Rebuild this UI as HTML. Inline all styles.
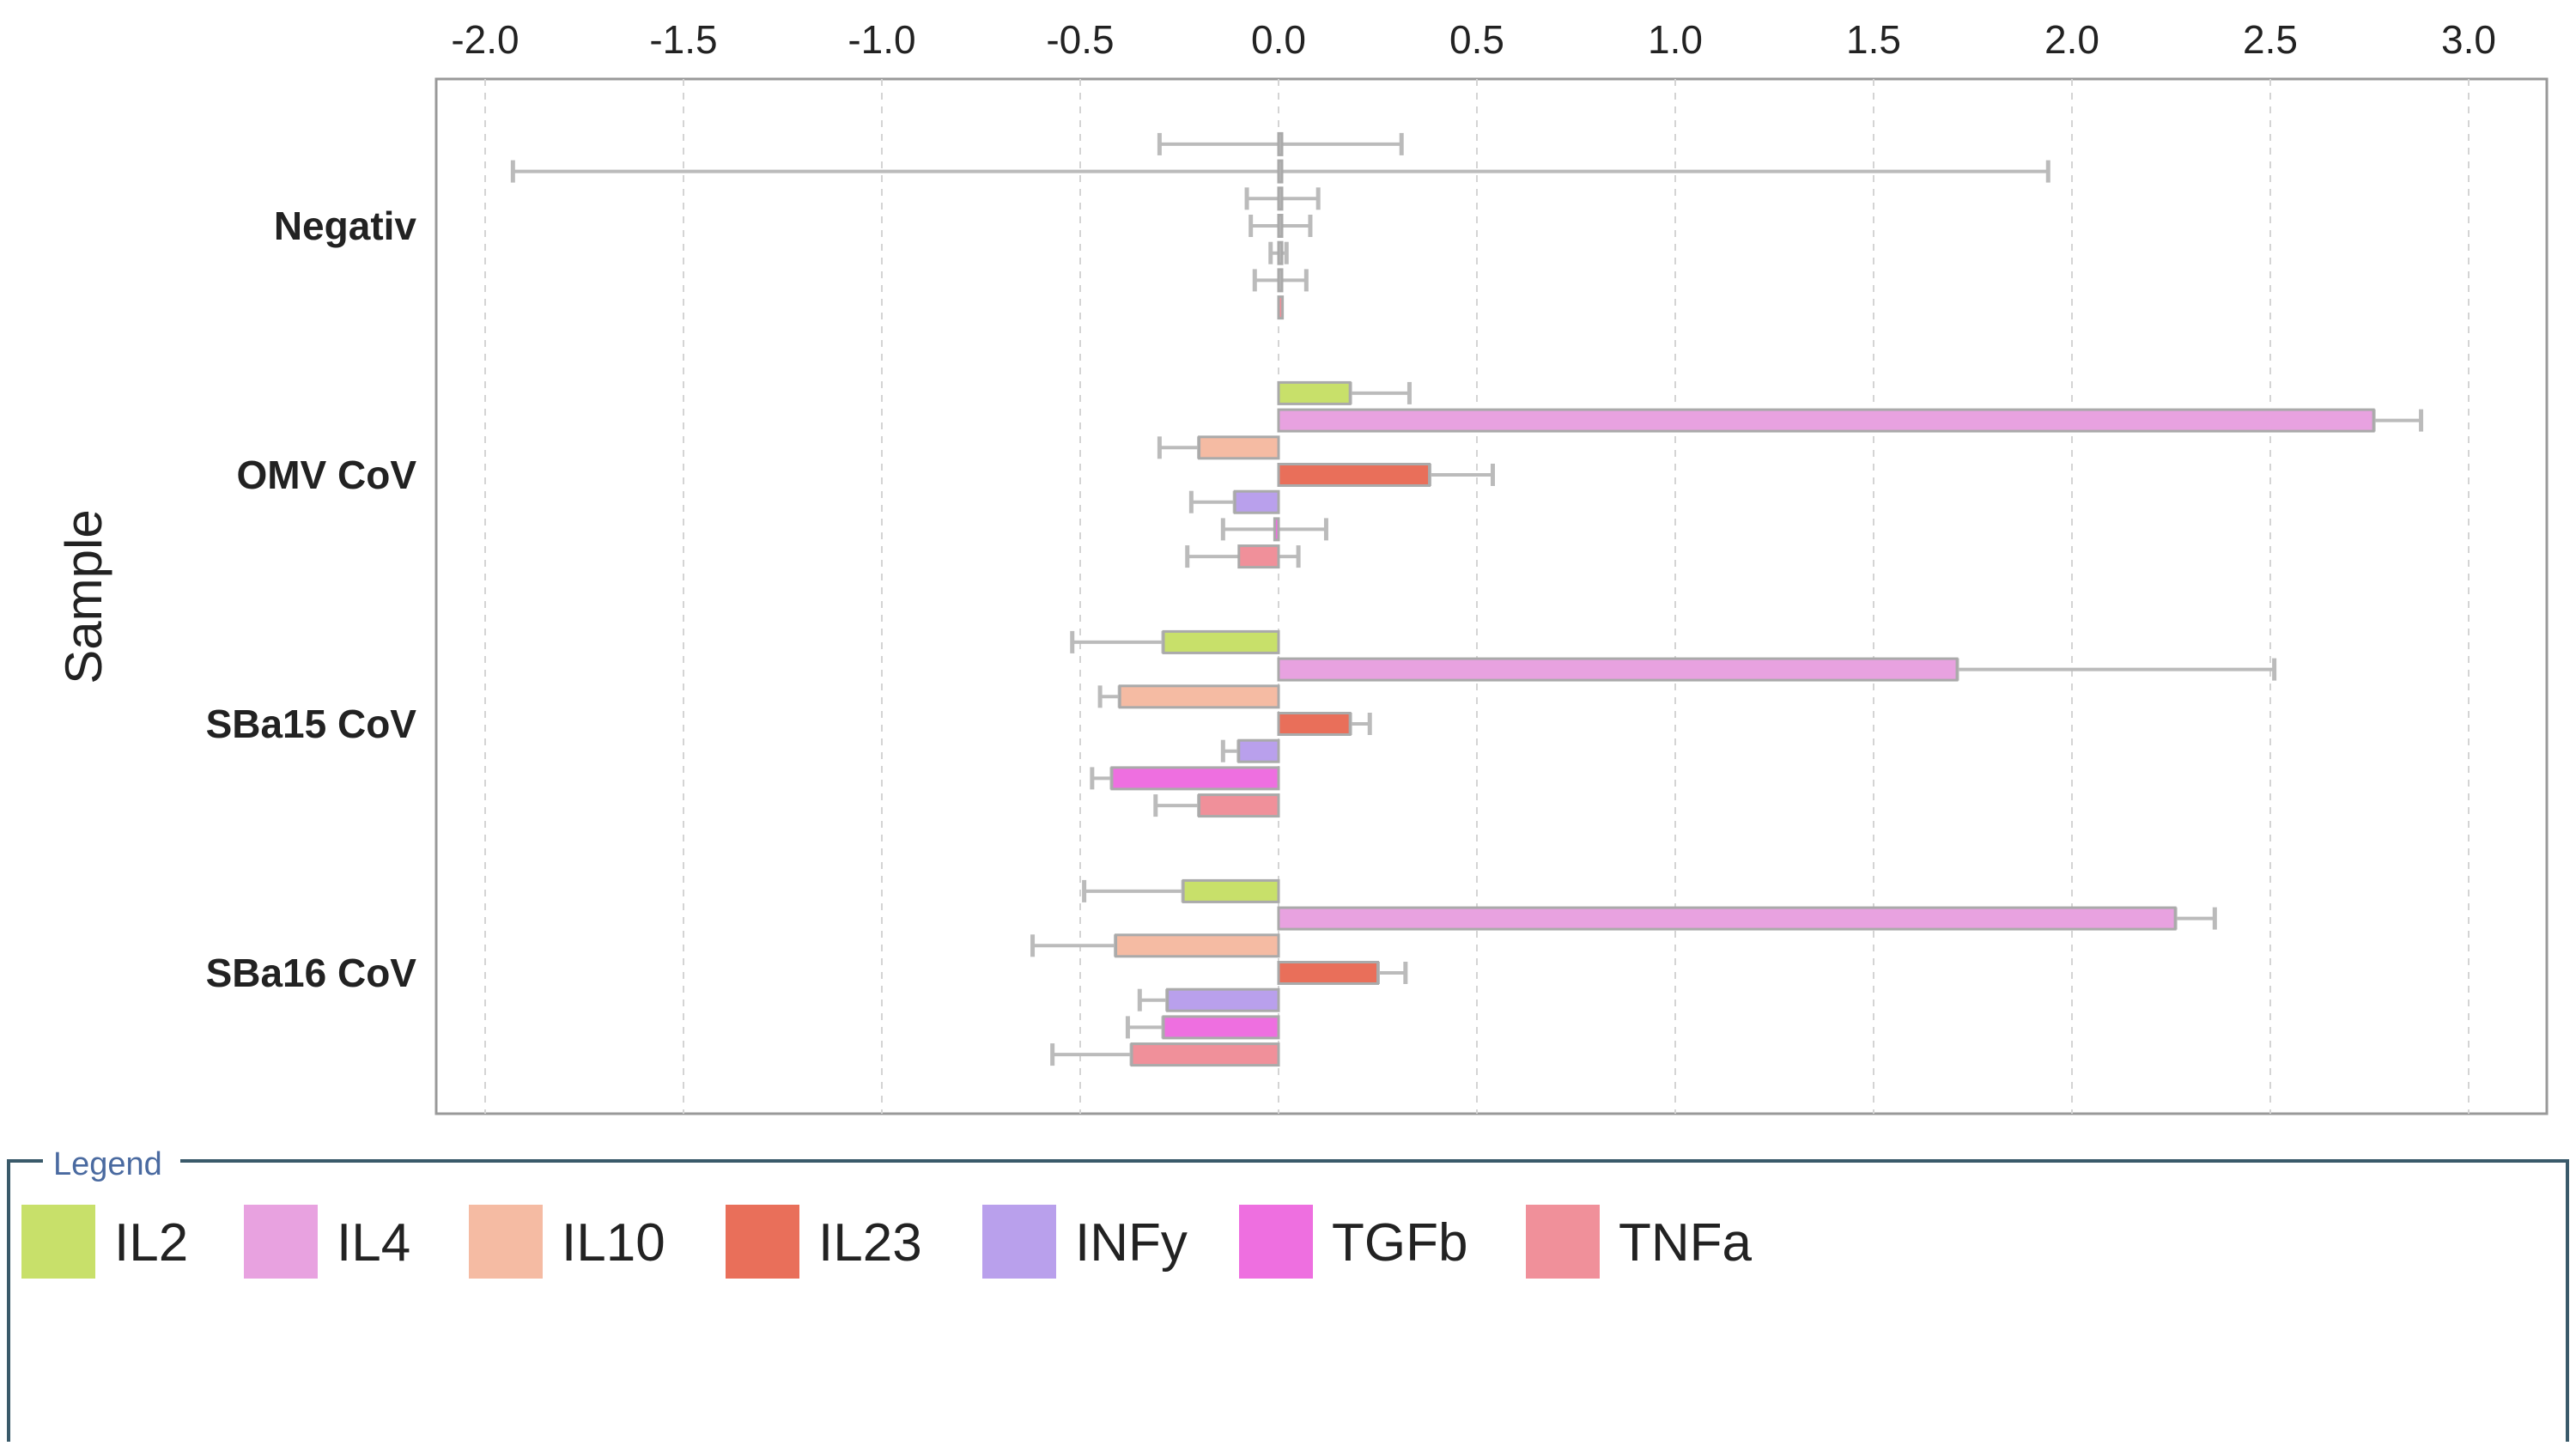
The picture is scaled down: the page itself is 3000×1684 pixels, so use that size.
<!DOCTYPE html>
<html><head><meta charset="utf-8"><style>
body{margin:0;background:#fff;width:3000px;height:1679px;overflow:hidden;font-family:"Liberation Sans",sans-serif}
</style></head><body>
<svg id="chart" width="3000" height="1679" xmlns="http://www.w3.org/2000/svg" font-family="Liberation Sans, sans-serif">
<text x="0" y="0" transform="translate(118,695) rotate(-90)" text-anchor="middle" font-size="60" fill="#222">Sample</text>
<rect x="10" y="1352" width="2980" height="340" fill="none" stroke="#3a5a6a" stroke-width="4"/>
<rect x="50" y="1335" width="160" height="40" fill="#fff"/>
<text x="62" y="1368" font-size="38" fill="#4a6aa0">Legend</text>
</svg>
<script>
const categories = ["Negativ","OMV CoV","SBa15 CoV","SBa16 CoV"];
const seriesNames = ["IL2","IL4","IL10","IL23","INFy","TGFb","TNFa"];
const colors = ["#c8e06a","#e8a2e0","#f5bba3","#e96f5a","#b9a0ec","#ee6fe0","#f0909a"];
const ticks = [-2.0,-1.5,-1.0,-0.5,0.0,0.5,1.0,1.5,2.0,2.5,3.0];
const IL2  = [0, 0.18, -0.29, -0.24];
const IL4  = [0, 2.76, 1.71, 2.26];
const IL10 = [0, -0.20, -0.40, -0.41];
const IL23 = [0, 0.38, 0.18, 0.25];
const INFy = [0, -0.11, -0.10, -0.28];
const TGFb = [0, -0.01, -0.42, -0.29];
const TNFa = [0.01, -0.10, -0.20, -0.37];
const errLo = [[-0.30,0.18,-0.52,-0.49],[-1.93,2.76,1.71,2.26],[-0.08,-0.30,-0.45,-0.62],[-0.07,0.38,0.18,0.25],[-0.02,-0.22,-0.14,-0.35],[-0.06,-0.14,-0.47,-0.38],[0,-0.23,-0.31,-0.57]];
const errHi = [[0.31,0.33,-0.29,-0.24],[1.94,2.88,2.51,2.36],[0.10,-0.20,-0.40,-0.41],[0.08,0.54,0.23,0.32],[0.02,-0.11,-0.10,-0.28],[0.07,0.12,-0.42,-0.29],[0,0.05,-0.20,-0.37]];
const values = [IL2,IL4,IL10,IL23,INFy,TGFb,TNFa];

const NS="http://www.w3.org/2000/svg";
const svg=document.getElementById('chart');
const L=508,R=2966,T=92,B=1297;
const x0=565,unit=462;
const xs=v=>x0+(v+2)*unit;
const groupY=i=>263+i*290;
const barStep=31.7, barH=25;
function mk(tag,attrs,parent){const e=document.createElementNS(NS,tag);for(const k in attrs)e.setAttribute(k,attrs[k]);(parent||svg).appendChild(e);return e;}
const frame=mk('rect',{x:L,y:T,width:R-L,height:B-T,fill:'none',stroke:'#999','stroke-width':3});


ticks.forEach(t=>{
  const g=mk('line',{x1:xs(t),x2:xs(t),y1:T,y2:B,stroke:'#d4d4d4','stroke-width':2,'stroke-dasharray':'8 8'});
  
  
  const lb=mk('text',{x:xs(t),y:62,'text-anchor':'middle','font-size':46,fill:'#222'});
  lb.textContent=t.toFixed(1);
  
  
});
categories.forEach((c,i)=>{
  const t=mk('text',{x:485,y:groupY(i)+16,'text-anchor':'end','font-size':46,'font-weight':'bold',fill:'#222'});
  t.textContent=c;
  
  
});
values.forEach((arr,s)=>{
  arr.forEach((v,i)=>{
    const yc=groupY(i)+(s-3)*barStep;
    const xa=xs(Math.min(0,v)), xb=xs(Math.max(0,v));
    const lo=errLo[s][i], hi=errHi[s][i];
    if(hi!==lo){
      const el=mk('line',{x1:xs(lo),x2:xs(hi),y1:yc,y2:yc,stroke:'#bbb','stroke-width':4});
      
      
      [lo,hi].forEach(e=>{
        const c=mk('line',{x1:xs(e),x2:xs(e),y1:yc-13,y2:yc+13,stroke:'#bbb','stroke-width':5});
        
        
      });
    }
    const r=mk('rect',{x:xa,y:yc-barH/2,width:Math.max(xb-xa,4),height:barH,fill:v===0?'#bbb':colors[s],stroke:'#aaa','stroke-width':3});
    
    
  });
});
const swX=[25,284,546,845,1144,1443,1777];
seriesNames.forEach((n,s)=>{
  const sw=mk('rect',{x:swX[s],y:1403,width:86,height:86,fill:colors[s]});
  
  
  const t=mk('text',{x:swX[s]+108,y:1468,'font-size':62,fill:'#222'});
  t.textContent=n;
  
  
});
</script>
</body></html>
